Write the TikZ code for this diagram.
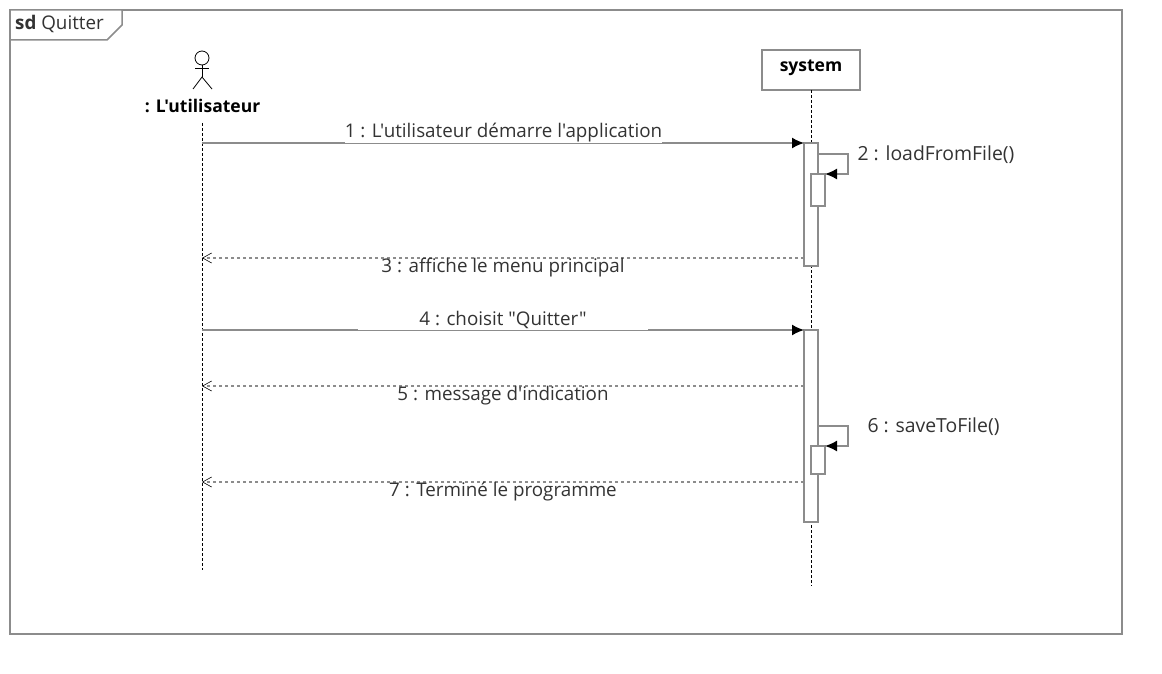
\documentclass[tikz,border=0pt]{standalone}
\usepackage{fontspec}
\setmainfont{Open Sans}[Ligatures=TeXOff]
\usepackage{tikz}
\usetikzlibrary{arrows.meta}
\definecolor{framegray}{HTML}{8C8C8C}
\tikzset{
  msgtext/.style={font=\fontsize{18.8}{20}\selectfont, inner sep=0pt, text=black!80},
  selftext/.style={msgtext, font=\fontsize{19.4}{20}\selectfont},
  boldtext/.style={font=\fontsize{17.5}{20}\selectfont\bfseries, inner sep=0pt, text=black},
  covertext/.style={msgtext, fill=white, minimum height=19.4pt},
  lifeline/.style={densely dashed, line width=0.9pt, black},
  activation/.style={draw=framegray, fill=white, line width=1.5pt, inner sep=0pt, minimum width=14pt},
  callmsg/.style={draw=framegray, line width=1.5pt, -{Latex[black,length=12pt,width=11pt]}},
  replymsg/.style={draw=framegray, line width=1.3pt, dash pattern=on 3pt off 3pt, -{Straight Barb[black,line width=0.6pt,length=9pt,width=10pt]}}
}
\begin{document}
\begin{tikzpicture}[x=1pt, y=-1pt]
\useasboundingbox (0,0) rectangle (1162,674);

% frame
\draw[framegray, line width=1.5pt] (10,10) rectangle (1122,634);
\draw[framegray, line width=1.5pt, fill=white] (10,10) -- (122,10) -- (122,25) -- (107,40) -- (10,40) -- cycle;
\node[msgtext, anchor=west] (frametitle) at (15,24) {\textbf{sd} Quitter};

% actor
\coordinate (actorhead) at (202,58);
\coordinate (actorneck) at (202,65);
\coordinate (actorhip) at (202,77);
\draw[black, line width=0.8pt] (actorhead) circle (7);
\draw[black, line width=0.8pt] (actorneck) -- (actorhip);
\draw[black, line width=0.8pt] (195,68) -- (209,68);
\draw[black, line width=0.8pt] (193,89) -- (actorhip) -- (212,89);
\node[boldtext] (user) at (202.5,105.5) {: L'utilisateur};

% system box
\node[draw=framegray, fill=white, line width=1.5pt, minimum width=98pt, minimum height=40pt, inner sep=0pt] (system) at (811,70) {};
\node[boldtext] (systemlabel) at (811,68) {system};

% lifelines
\coordinate (userbegin) at (202,123);
\coordinate (userend) at (202,570);
\coordinate (sysbegin) at (811,90);
\coordinate (sysend) at (811,586);
\draw[lifeline] (userbegin) -- (userend);
\draw[lifeline] (sysbegin) -- (sysend);

% activations
\node[activation, minimum height=123pt] (barone) at (811,204.5) {};
\node[activation, minimum height=192pt] (bartwo) at (811,426) {};
\node[activation, minimum height=32pt] (loadbar) at (818,190) {};
\node[activation, minimum height=28pt] (savebar) at (818,460) {};

% messages
\coordinate (m1a) at (202,143);
\coordinate (m1b) at (804,143);
\coordinate (m3a) at (804,258);
\coordinate (m3b) at (202,258);
\coordinate (m4a) at (202,330);
\coordinate (m4b) at (804,330);
\coordinate (m5a) at (804,386);
\coordinate (m5b) at (202,386);
\coordinate (m7a) at (804,482);
\coordinate (m7b) at (202,482);
\draw[callmsg] (m1a) -- (m1b);
\draw[replymsg] (m3a) -- (m3b);
\draw[callmsg] (m4a) -- (m4b);
\draw[replymsg] (m5a) -- (m5b);
\draw[replymsg] (m7a) -- (m7b);

% self calls
\coordinate (s2a) at (818,154);
\coordinate (s2b) at (848,154);
\coordinate (s2c) at (848,174);
\coordinate (s2d) at (825,174);
\coordinate (s6a) at (818,426);
\coordinate (s6b) at (848,426);
\coordinate (s6c) at (848,446);
\coordinate (s6d) at (825,446);
\draw[callmsg] (s2a) -- (s2b) -- (s2c) -- (s2d);
\draw[callmsg] (s6a) -- (s6b) -- (s6c) -- (s6d);

% labels
\node[covertext, minimum width=317pt] (l1) at (503.5,133) {1 : L'utilisateur démarre l'application};
\node[selftext] (l2) at (936,155) {2 : loadFromFile()};
\node[msgtext] (l3) at (503,267.5) {3 : affiche le menu principal};
\node[covertext, minimum width=290pt] (l4) at (503,320) {4 : choisit "Quitter"};
\node[msgtext] (l5) at (503,395.5) {5 : message d'indication};
\node[selftext] (l6) at (933.5,427) {6 : saveToFile()};
\node[msgtext] (l7) at (503,491.5) {7 : Terminé le programme};

\end{tikzpicture}
\end{document}
